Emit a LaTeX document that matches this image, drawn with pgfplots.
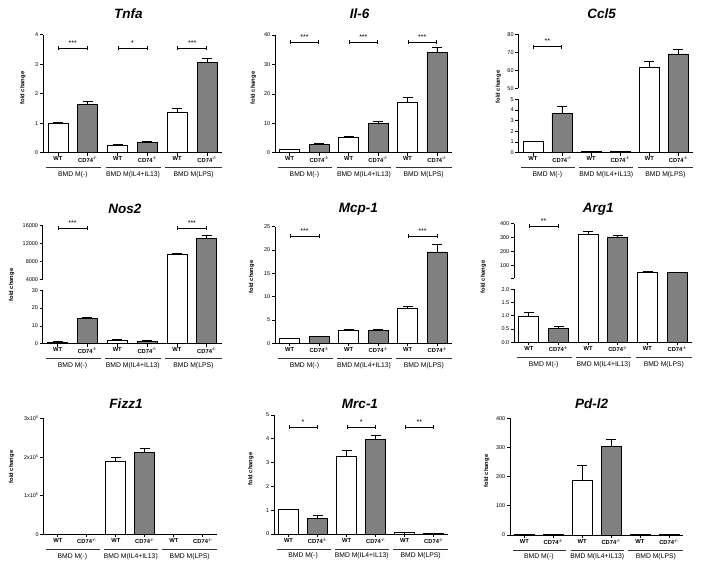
\documentclass[border=0pt]{standalone}
\usepackage{pgfplots}
\pgfplotsset{compat=1.18}
\usepackage{fontspec}
\setmainfont{Liberation Sans}
\usetikzlibrary{arrows.meta}

\newcommand\tickfont{\fontsize{5.5}{6}\selectfont}
\newcommand\xlabfont{\bfseries\fontsize{5.8}{7}\selectfont}
\newcommand\grpfont{\fontsize{6.8}{8}\selectfont}
\newcommand\ylabfont{\bfseries\fontsize{5.8}{6}\selectfont}
\newcommand\titfont{\bfseries\itshape\fontsize{13.5}{15}\selectfont}
\newcommand\starfont{\fontsize{7}{8}\selectfont}

% broken-axis maps (lower segment, gap, upper segment)
\pgfmathdeclarefunction{brkC}{1}{\pgfmathparse{#1<=5 ? #1 : (#1>=50 ? 6.03+(#1-50)*0.16854 : 5+(#1-5)/45*1.03)}}
\pgfmathdeclarefunction{brkN}{1}{\pgfmathparse{#1<=30 ? #1 : (#1>=4000 ? 36.18+(#1-4000)*0.0025094 : 30+(#1-30)/3970*6.18)}}
\pgfmathdeclarefunction{brkA}{1}{\pgfmathparse{#1<=2 ? #1 : (#1>=10 ? 2.426+(#1-10)*0.005245 : 2+(#1-2)/8*0.426)}}

\pgfplotsset{
  lowerpanel/.style={
    scale only axis, xmin=-0.5, xmax=5.5,
    axis y line*=left, axis x line*=bottom,
    axis line style={line width=0.7pt,-},
    every tick/.style={line width=0.7pt,black},
    tick align=outside, major tick length=3pt,
    y tick label style={font=\tickfont, inner sep=1.5pt},
    /pgf/number format/assume math mode=true,
    /pgf/number format/1000 sep={},
    scaled y ticks=false,
    anchor=south west,
    ymin=0, clip=false,
    xtick={0,1,2,3,4,5},
    xticklabels={WT,CD74\textsuperscript{-/-},WT,CD74\textsuperscript{-/-},WT,CD74\textsuperscript{-/-}},
    x tick label style={font=\xlabfont, inner sep=1pt},
  },
  broken/.style={lowerpanel, y axis line style={draw=none}},
  wt/.style={ybar, bar width=20pt, fill=white, draw=black, line width=0.7pt,
    error bars/y dir=plus, error bars/y explicit,
    error bars/error bar style={line width=0.7pt, black},
    error bars/error mark options={rotate=90, mark size=5pt, line width=0.7pt, black}},
  ko/.style={wt, fill=gray},
}

\newcommand{\grp}[4]{%
  \draw[line width=0.5pt, black!80] ([yshift=-15pt]axis cs:#1,0) -- ([yshift=-15pt]axis cs:#2,0);
  \node[font=\grpfont] at ([yshift=-22pt]axis cs:#3,0) {#4};}
\newcommand{\grps}{%
  \grp{-0.4}{1.45}{0.5}{BMD M(-)}%
  \grp{1.6}{3.45}{2.52}{BMD M(IL4+IL13)}%
  \grp{3.6}{5.5}{4.55}{BMD M(LPS)}}
\newcommand{\sig}[5]{%
  \draw[line width=0.7pt, {Bar[width=4pt]}-{Bar[width=4pt]}] (axis cs:#1,#4) -- (axis cs:#2,#4);
  \node[font=\starfont, anchor=base] at ([yshift=3pt]axis cs:#3,#4) {#5};}
\newcommand{\yseg}[4]{%
  \draw[line width=0.7pt] (axis cs:-0.5,#1) -- (axis cs:-0.5,#2);
  \draw[line width=0.7pt] (axis cs:-0.5,#3) -- (axis cs:-0.5,#4);}

\begin{document}
\begin{tikzpicture}
\path[use as bounding box] (0,0) rectangle (704pt,-571pt);

% ---------- Tnfa ----------
\begin{axis}[lowerpanel, at={(43pt,-152.7pt)}, width=179pt, height=118pt,
  ymax=4, ytick={0,1,2,3,4}]
\addplot[wt] coordinates {(0,1.0) +- (0,0.03) (2,0.24) +- (0,0.03) (4,1.36) +- (0,0.13)};
\addplot[ko] coordinates {(1,1.64) +- (0,0.09) (3,0.36) +- (0,0.02) (5,3.06) +- (0,0.14)};
\sig{0}{1}{0.5}{3.54}{***}\sig{2}{3}{2.5}{3.54}{*}\sig{4}{5}{4.5}{3.54}{***}
\grps
\end{axis}

% ---------- Il-6 ----------
\begin{axis}[lowerpanel, at={(275pt,-152.7pt)}, width=176.7pt, height=117.7pt,
  ymax=40, ytick={0,10,20,30,40}]
\addplot[wt] coordinates {(0,1.0) +- (0,0.15) (2,5.2) +- (0,0.3) (4,17.0) +- (0,1.9)};
\addplot[ko] coordinates {(1,2.95) +- (0,0.25) (3,10.0) +- (0,0.5) (5,34.1) +- (0,1.6)};
\sig{0}{1}{0.5}{37.5}{***}\sig{2}{3}{2.5}{37.5}{***}\sig{4}{5}{4.5}{37.5}{***}
\grps
\end{axis}

% ---------- Ccl5 (broken axis) ----------
\begin{axis}[broken, at={(518.3pt,-152.7pt)}, width=174.7pt, height=118.4pt,
  y coord trafo/.code={\pgfmathparse{brkC(#1)}},
  ymax=80,
  ytick={0,1,2,3,4,5,50,60,70,80}, yticklabels={0,1,2,3,4,5,50,60,70,80}]
\addplot[wt] table[row sep=\\, x=x, y=y, y error expr={brkC(\thisrow{y}+\thisrow{e})-brkC(\thisrow{y})}] {
x y e\\ 0 1.03 0.03\\ 2 0.1 0.02\\ 4 61.4 3.8\\};
\addplot[ko] table[row sep=\\, x=x, y=y, y error expr={brkC(\thisrow{y}+\thisrow{e})-brkC(\thisrow{y})}] {
x y e\\ 1 3.69 0.69\\ 3 0.12 0.02\\ 5 69.1 2.6\\};
\yseg{0}{5}{50}{80}
\sig{0}{1}{0.5}{73.1}{**}
\grps
\end{axis}

% ---------- Nos2 (broken axis) ----------
\begin{axis}[broken, at={(42.7pt,-343.7pt)}, width=179pt, height=118pt,
  y coord trafo/.code={\pgfmathparse{brkN(#1)}},
  ymax=16000,
  ytick={0,10,20,30,4000,8000,12000,16000}, yticklabels={0,10,20,30,4000,8000,12000,16000}]
\addplot[wt] table[row sep=\\, x=x, y=y, y error expr={brkN(\thisrow{y}+\thisrow{e})-brkN(\thisrow{y})}] {
x y e\\ 0 1.0 0.15\\ 2 2.1 0.2\\ 4 9600 230\\};
\addplot[ko] table[row sep=\\, x=x, y=y, y error expr={brkN(\thisrow{y}+\thisrow{e})-brkN(\thisrow{y})}] {
x y e\\ 1 14.0 0.9\\ 3 1.5 0.15\\ 5 13050 650\\};
\yseg{0}{30}{4000}{16000}
\sig{0}{1}{0.5}{15400}{***}\sig{4}{5}{4.5}{15400}{***}
\grps
\end{axis}

% ---------- Mcp-1 ----------
\begin{axis}[lowerpanel, at={(275pt,-343.3pt)}, width=177pt, height=116.6pt,
  ymax=25, ytick={0,5,10,15,20,25}]
\addplot[wt] coordinates {(0,1.0) +- (0,0.08) (2,2.85) +- (0,0.2) (4,7.5) +- (0,0.4)};
\addplot[ko] coordinates {(1,1.45) +- (0,0.12) (3,2.78) +- (0,0.12) (5,19.6) +- (0,1.6)};
\sig{0}{1}{0.5}{23.0}{***}\sig{4}{5}{4.5}{23.0}{***}
\grps
\end{axis}

% ---------- Arg1 (broken axis) ----------
\begin{axis}[broken, at={(514pt,-342.3pt)}, width=178pt, height=118.5pt,
  y coord trafo/.code={\pgfmathparse{brkA(#1)}},
  ymax=400,
  ytick={0,0.5,1,1.5,2,10,100,200,300,400}, yticklabels={0.0,0.5,1.0,1.5,2.0,,100,200,300,400}]
\addplot[wt] table[row sep=\\, x=x, y=y, y error expr={brkA(\thisrow{y}+\thisrow{e})-brkA(\thisrow{y})}] {
x y e\\ 0 0.99 0.14\\ 2 323 24\\ 4 52 4\\};
\addplot[ko] table[row sep=\\, x=x, y=y, y error expr={brkA(\thisrow{y}+\thisrow{e})-brkA(\thisrow{y})}] {
x y e\\ 1 0.53 0.06\\ 3 306 12\\ 5 49 3\\};
\yseg{0}{2}{10}{400}
\sig{0}{1}{0.5}{383}{**}
\grps
\end{axis}

% ---------- Fizz1 ----------
\begin{axis}[lowerpanel, at={(43.3pt,-534.3pt)}, width=174pt, height=116pt,
  ymax=300000, ytick={0,100000,200000,300000},
  yticklabels={0,1x10\textsuperscript{5},2x10\textsuperscript{5},3x10\textsuperscript{5}}]
\addplot[wt] coordinates {(0,1.0) +- (0,0.1) (2,188000) +- (0,10000) (4,0.6) +- (0,0.1)};
\addplot[ko] coordinates {(1,1.2) +- (0,0.1) (3,211000) +- (0,11000) (5,0.4) +- (0,0.1)};
\grps
\end{axis}

% ---------- Mrc-1 ----------
\begin{axis}[lowerpanel, at={(274pt,-534pt)}, width=174.3pt, height=119pt,
  ymax=5, ytick={0,1,2,3,4,5}]
\addplot[wt] coordinates {(0,1.02) +- (0,0.02) (2,3.28) +- (0,0.22) (4,0.05) +- (0,0.01)};
\addplot[ko] coordinates {(1,0.66) +- (0,0.14) (3,3.99) +- (0,0.17) (5,0.04) +- (0,0.005)};
\sig{0}{1}{0.5}{4.48}{*}\sig{2}{3}{2.5}{4.48}{*}\sig{4}{5}{4.5}{4.48}{**}
\grps
\end{axis}

% ---------- Pd-l2 ----------
\begin{axis}[lowerpanel, at={(510pt,-535pt)}, width=173.3pt, height=116.7pt,
  ymax=400, ytick={0,100,200,300,400}]
\addplot[wt] coordinates {(0,1.0) +- (0,0.1) (2,188) +- (0,52) (4,1.0) +- (0,0.1)};
\addplot[ko] coordinates {(1,1.1) +- (0,0.1) (3,305) +- (0,24) (5,0.9) +- (0,0.1)};
\grps
\end{axis}

% ---------- titles ----------
\node[font=\titfont, anchor=base] at (128.3pt,-18.3pt) {Tnfa};
\node[font=\titfont, anchor=base] at (359.5pt,-18.3pt) {Il-6};
\node[font=\titfont, anchor=base] at (601.7pt,-18.3pt) {Ccl5};
\node[font=\titfont, anchor=base] at (125pt,-213pt) {Nos2};
\node[font=\titfont, anchor=base] at (358.3pt,-212pt) {Mcp-1};
\node[font=\titfont, anchor=base] at (598.3pt,-212pt) {Arg1};
\node[font=\titfont, anchor=base] at (126pt,-408.3pt) {Fizz1};
\node[font=\titfont, anchor=base] at (360pt,-408.3pt) {Mrc-1};
\node[font=\titfont, anchor=base] at (591.7pt,-408.3pt) {Pd-l2};

% ---------- y labels ----------
\node[rotate=90, font=\ylabfont] at (23pt,-88pt) {fold change};
\node[rotate=90, font=\ylabfont] at (253.3pt,-88pt) {fold change};
\node[rotate=90, font=\ylabfont] at (498.3pt,-87pt) {fold change};
\node[rotate=90, font=\ylabfont] at (11.7pt,-285pt) {fold change};
\node[rotate=90, font=\ylabfont] at (251.7pt,-277pt) {fold change};
\node[rotate=90, font=\ylabfont] at (483.3pt,-277pt) {fold change};
\node[rotate=90, font=\ylabfont] at (11.7pt,-467pt) {fold change};
\node[rotate=90, font=\ylabfont] at (251pt,-469pt) {fold change};
\node[rotate=90, font=\ylabfont] at (486.7pt,-471pt) {fold change};
\end{tikzpicture}
\end{document}
